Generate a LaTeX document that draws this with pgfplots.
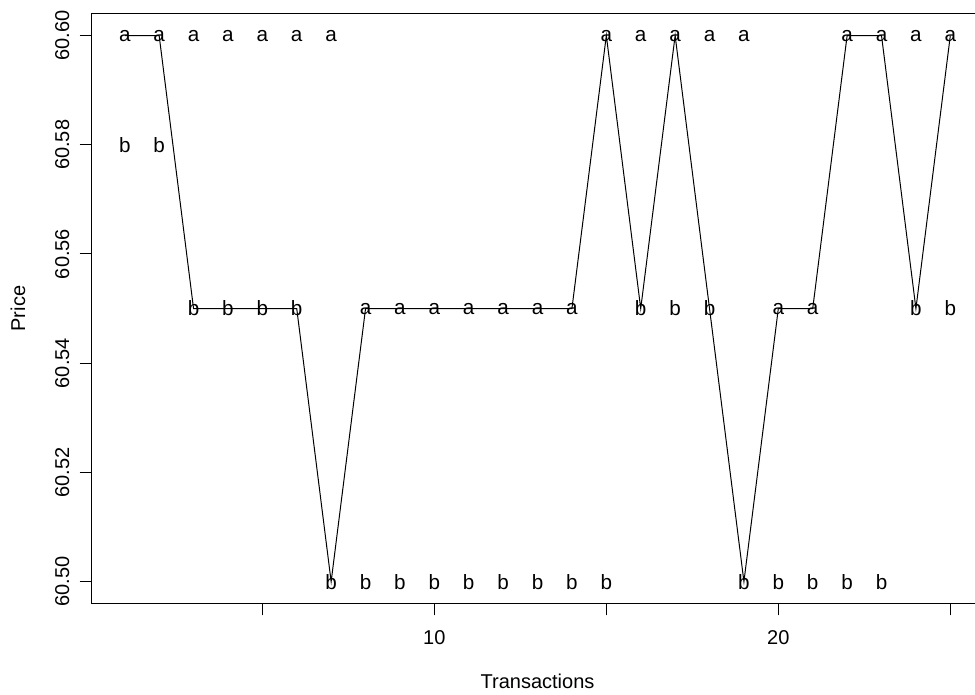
\documentclass[border=0pt]{standalone}
\usepackage{pgfplots}
\usepackage{pgfplotstable}
\pgfplotsset{compat=1.18}
\usepackage{fontspec}
\setmainfont{Liberation Sans}
\pgfplotstableread{
x y
1 60.60
2 60.60
3 60.55
4 60.55
5 60.55
6 60.55
7 60.50
8 60.55
9 60.55
10 60.55
11 60.55
12 60.55
13 60.55
14 60.55
15 60.60
16 60.55
17 60.60
18 60.55
19 60.50
20 60.55
21 60.55
22 60.60
23 60.60
24 60.55
25 60.60
}\trades
\pgfplotstableread{
x y
1 60.60
2 60.60
3 60.60
4 60.60
5 60.60
6 60.60
7 60.60
8 60.55
9 60.55
10 60.55
11 60.55
12 60.55
13 60.55
14 60.55
15 60.60
16 60.60
17 60.60
18 60.60
19 60.60
20 60.55
21 60.55
22 60.60
23 60.60
24 60.60
25 60.60
}\ask
\pgfplotstableread{
x y
1 60.58
2 60.58
3 60.55
4 60.55
5 60.55
6 60.55
7 60.50
8 60.50
9 60.50
10 60.50
11 60.50
12 60.50
13 60.50
14 60.50
15 60.50
16 60.55
17 60.55
18 60.55
19 60.50
20 60.50
21 60.50
22 60.50
23 60.50
24 60.55
25 60.55
}\bid
\begin{document}
\begin{tikzpicture}
\begin{axis}[
  scale only axis, width=668.7pt, height=442.3pt,
  xmin=0.04, xmax=25.96, ymin=60.496, ymax=60.604,
  xtick={5,10,15,20,25}, xticklabels={,10,,20,},
  ytick={60.50,60.52,60.54,60.56,60.58,60.60},
  yticklabels={60.50,60.52,60.54,60.56,60.58,60.60},
  tick align=outside, major tick length=9pt,
  tick style={black, line width=0.75pt},
  axis line style={line width=0.75pt},
  xtick pos=bottom, ytick pos=left,
  font=\fontsize{15}{18}\selectfont,
  xticklabel style={anchor=base, yshift=-22pt},
  yticklabel style={anchor=base, rotate=90, yshift=8pt},
  xlabel={Transactions}, ylabel={Price},
  xlabel style={at={(axis description cs:0.5,0)}, anchor=base, yshift=-63.4pt},
  ylabel style={at={(axis description cs:0,0.5)}, anchor=base, rotate=0, yshift=50pt},
  clip=false,
]
\coordinate (bl) at (rel axis cs:0,0);
\addplot[black, line width=0.75pt, mark=none] table {\trades};
\addplot[only marks, mark=text, text mark={a}, text mark as node=true,
  text mark style={font=\fontsize{15.5}{18}\selectfont, inner sep=0pt}] table {\ask};
\addplot[only marks, mark=text, text mark={b}, text mark as node=true,
  text mark style={font=\fontsize{15.5}{18}\selectfont, inner sep=0pt}] table {\bid};
\end{axis}
\pgfresetboundingbox
\useasboundingbox ([shift={(-68.8pt,-67.9pt)}]bl) rectangle ([shift={(662.45pt,452.6pt)}]bl);
\end{tikzpicture}
\end{document}
